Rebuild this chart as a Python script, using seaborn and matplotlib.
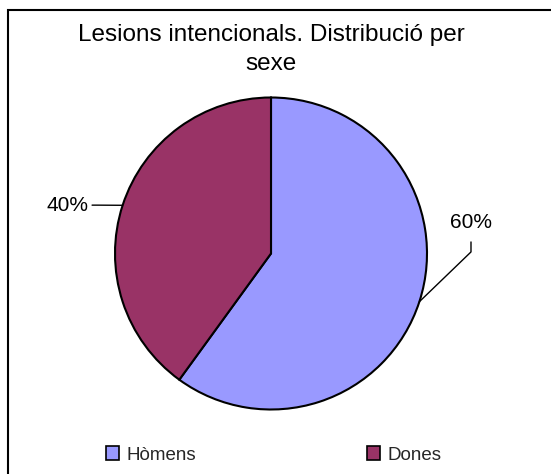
import matplotlib
matplotlib.use('Agg')
import matplotlib.pyplot as plt
from matplotlib.patches import Patch, Rectangle
import numpy as np
import seaborn as sns

# data
labels = ['Hòmens', 'Dones']
values = [60, 40]
colors = ['#9999FF', '#993366']
title = 'Lesions intencionals. Distribució per\nsexe'

sns.set_theme(style='white')
plt.rcParams['font.family'] = ['Liberation Sans', 'DejaVu Sans']

W, H = 551, 474
fig = plt.figure(figsize=(W / 100, H / 100), dpi=100)

# pie axes: centre (271, 253.5) px, radius 156 px
cx, cy, r = 271, 253.5, 156
ax = fig.add_axes([(cx - r) / W, (H - cy - r) / H, 2 * r / W, 2 * r / H])
wedges, _ = ax.pie(values, colors=colors, startangle=90, counterclock=False,
                   wedgeprops=dict(edgecolor='black', linewidth=1.5))
ax.set_xlim(-1, 1)
ax.set_ylim(-1, 1)
ax.set_aspect('auto')
ax.axis('off')

# leader-line label placement (elbow, end, text pos, ha) per slice
label_pos = {
    'Hòmens': ((1.282, 0.01), (1.282, 0.074), (1.282, 0.196), 'center'),
    'Dones': ((-1.115, 0.31), (-1.147, 0.31), (-1.17, 0.31), 'right'),
}
for w, lab, v in zip(wedges, labels, values):
    mid = np.deg2rad((w.theta1 + w.theta2) / 2)
    ax_, ay_ = np.cos(mid), np.sin(mid)
    elbow, end, tpos, ha = label_pos[lab]
    ax.plot([ax_, elbow[0], end[0]], [ay_, elbow[1], end[1]],
            color='black', lw=1.0, clip_on=False)
    ax.text(tpos[0], tpos[1], f'{v}%', ha=ha, va='center', fontsize=15,
            color='black', clip_on=False)

fig.text(cx / W, 1 - 24.5 / H, title, ha='center', va='top', fontsize=17.5,
         linespacing=1.38, color='black')

handles = [Patch(facecolor=c, edgecolor='black', linewidth=1.2) for c in colors]
fig.legend(handles, labels, loc='center', bbox_to_anchor=(273.5 / W, (H - 455) / H),
           ncol=2, frameon=False, fontsize=13.5, handlelength=0.7, handleheight=0.7,
           handletextpad=0.4, columnspacing=9.1, borderaxespad=0)

fig.patches.append(Rectangle((8.3 / W, -0.1), 1.2, 1 - 10.2 / H + 0.1,
                             transform=fig.transFigure, fill=False,
                             edgecolor='black', linewidth=1.5))

fig.savefig('out.png', dpi=100)
